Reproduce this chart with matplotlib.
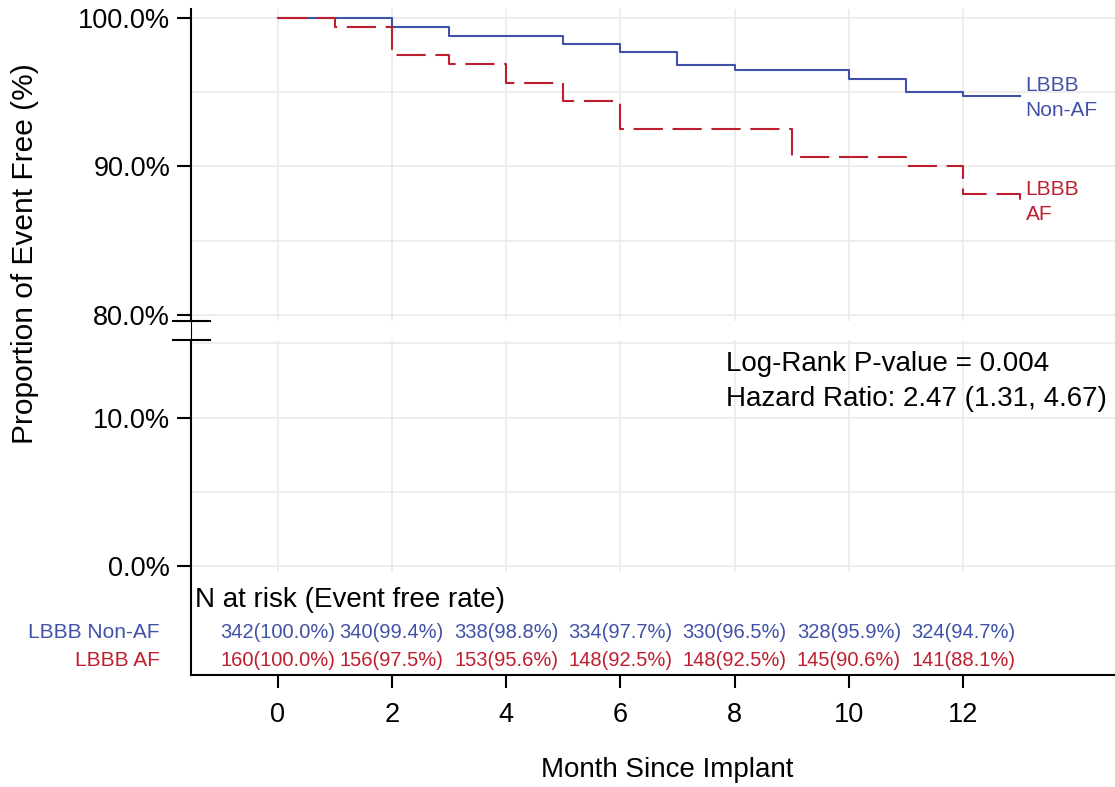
import matplotlib
matplotlib.use("Agg")
import matplotlib.pyplot as plt
from matplotlib.lines import Line2D
from matplotlib.transforms import blended_transform_factory

plt.rcParams['font.family'] = ['Liberation Sans', 'DejaVu Sans']
plt.rcParams['lines.scale_dashes'] = False

# ---------------- data ----------------
nonaf_time = [0, 2, 3, 5, 6, 7, 8, 10, 11, 12, 13]
nonaf_surv = [100.0, 99.4, 98.8, 98.2, 97.7, 96.8, 96.5, 95.9, 95.0, 94.7, 94.7]
af_time = [0, 1, 2, 3, 4, 5, 6, 9, 11, 12, 13]
af_surv = [100.0, 99.4, 97.5, 96.9, 95.6, 94.4, 92.5, 90.6, 90.0, 88.1, 87.5]

risk_months = [0, 2, 4, 6, 8, 10, 12]
nonaf_n = [342, 340, 338, 334, 330, 328, 324]
nonaf_rate = [100.0, 99.4, 98.8, 97.7, 96.5, 95.9, 94.7]
af_n = [160, 156, 153, 148, 148, 145, 141]
af_rate = [100.0, 97.5, 95.6, 92.5, 92.5, 90.6, 88.1]

upper_ticks = [80, 90, 100]
upper_grid = [80, 85, 90, 95, 100]
lower_ticks = [0, 10]
lower_grid = [0, 5, 10, 15]

series_labels = ["LBBB Non-AF", "LBBB AF"]
stats_lines = ["Log-Rank P-value = 0.004", "Hazard Ratio: 2.47 (1.31, 4.67)"]

BLUE = "#4151A7"
RED = "#BE1E2D"
GRID = "#EBEBEB"

# ---------------- layout ----------------
W, H = 1115, 787
fig = plt.figure(figsize=(W / 100, H / 100), dpi=100)

def fx(px):
    return px / W

def fy(py):
    return 1 - py / H

left, right = 190.7, 1115
ax_top = fig.add_axes([fx(left), fy(321), fx(right - left), (321 - 9) / H])
ax_bot = fig.add_axes([fx(left), fy(675), fx(right - left), (675 - 340) / H])

xlim = (-1.52, 14.66)
for ax in (ax_top, ax_bot):
    ax.set_xlim(*xlim)
    ax.spines['top'].set_visible(False)
    ax.spines['right'].set_visible(False)
    ax.spines['left'].set_linewidth(1.5)
    ax.spines['bottom'].set_linewidth(1.5)
    ax.patch.set_alpha(0)
ax_top.spines['bottom'].set_visible(False)
ax_top.set_ylim(79.58, 100.59)
ax_bot.set_ylim(-7.34, 15.22)

# grid
for y in upper_grid:
    ax_top.axhline(y, color=GRID, lw=1.2, zorder=0)
for x in risk_months:
    ax_top.axvline(x, color=GRID, lw=1.2, zorder=0)
for y in lower_grid:
    ax_bot.axhline(y, color=GRID, lw=1.2, zorder=0)
ax_bot.vlines(risk_months, -0.4, 15.22, color=GRID, lw=1.2, zorder=0)

# ticks
ax_top.set_xticks([])
ax_top.set_yticks(upper_ticks)
ax_top.set_yticklabels([f"{v:.1f}%" for v in upper_ticks])
ax_bot.set_yticks(lower_ticks)
ax_bot.set_yticklabels([f"{v:.1f}%" for v in lower_ticks])
ax_bot.set_xticks(risk_months)
ax_bot.set_xticklabels([str(m) for m in risk_months])
for ax in (ax_top, ax_bot):
    ax.tick_params(axis='y', length=9.8, width=1.5, pad=5, labelsize=19.5)
ax_bot.tick_params(axis='x', length=9.2, width=1.5, pad=10, labelsize=19.5)

# curves
ax_top.step(nonaf_time, nonaf_surv, where='post', color=BLUE, lw=1.5, zorder=3)
ax_top.step(af_time, af_surv, where='post', color=RED, lw=1.5,
            linestyle=(0, (21, 7)), zorder=4)

ax_top.annotate("LBBB\nNon-AF", xy=(nonaf_time[-1], nonaf_surv[-1]), xytext=(4, -1),
                textcoords='offset points', ha='left', va='center', color=BLUE,
                fontsize=15, linespacing=1.4)
ax_top.annotate("LBBB\nAF", xy=(af_time[-1], af_surv[-1]), xytext=(4, 1),
                textcoords='offset points', ha='left', va='center', color=RED,
                fontsize=15, linespacing=1.4)

# stats text
ax_bot.text(7.85, 13.6, stats_lines[0], ha='left', va='center', fontsize=20)
ax_bot.text(7.85, 11.25, stats_lines[1], ha='left', va='center', fontsize=20)

# risk table
tr = blended_transform_factory(ax_bot.transData, fig.transFigure)
fig.text(fx(195), fy(600), "N at risk (Event free rate)", ha='left', va='center', fontsize=20)
fig.text(fx(160), fy(633), series_labels[0], ha='right', va='center', fontsize=15, color=BLUE)
fig.text(fx(160), fy(661), series_labels[1], ha='right', va='center', fontsize=15, color=RED)
for m, n, r in zip(risk_months, nonaf_n, nonaf_rate):
    ax_bot.text(m, fy(633), f"{n}({r:.1f}%)", transform=tr, ha='center', va='center',
                fontsize=14.5, color=BLUE)
for m, n, r in zip(risk_months, af_n, af_rate):
    ax_bot.text(m, fy(661), f"{n}({r:.1f}%)", transform=tr, ha='center', va='center',
                fontsize=14.5, color=RED)

# axis labels
fig.text(fx(25), fy(254), "Proportion of Event Free (%)", rotation=90,
         ha='center', va='center', fontsize=21.5)
fig.text(fx(667), fy(770), "Month Since Implant", ha='center', va='center', fontsize=20)

# axis break marks
for py in (321, 340):
    fig.add_artist(Line2D([fx(173), fx(210)], [fy(py), fy(py)], color='black', lw=1.5))
fig.add_artist(Line2D([fx(left), fx(left)], [fy(321), fy(340)], color='black', lw=0.8))

fig.savefig("out.png", dpi=100)
